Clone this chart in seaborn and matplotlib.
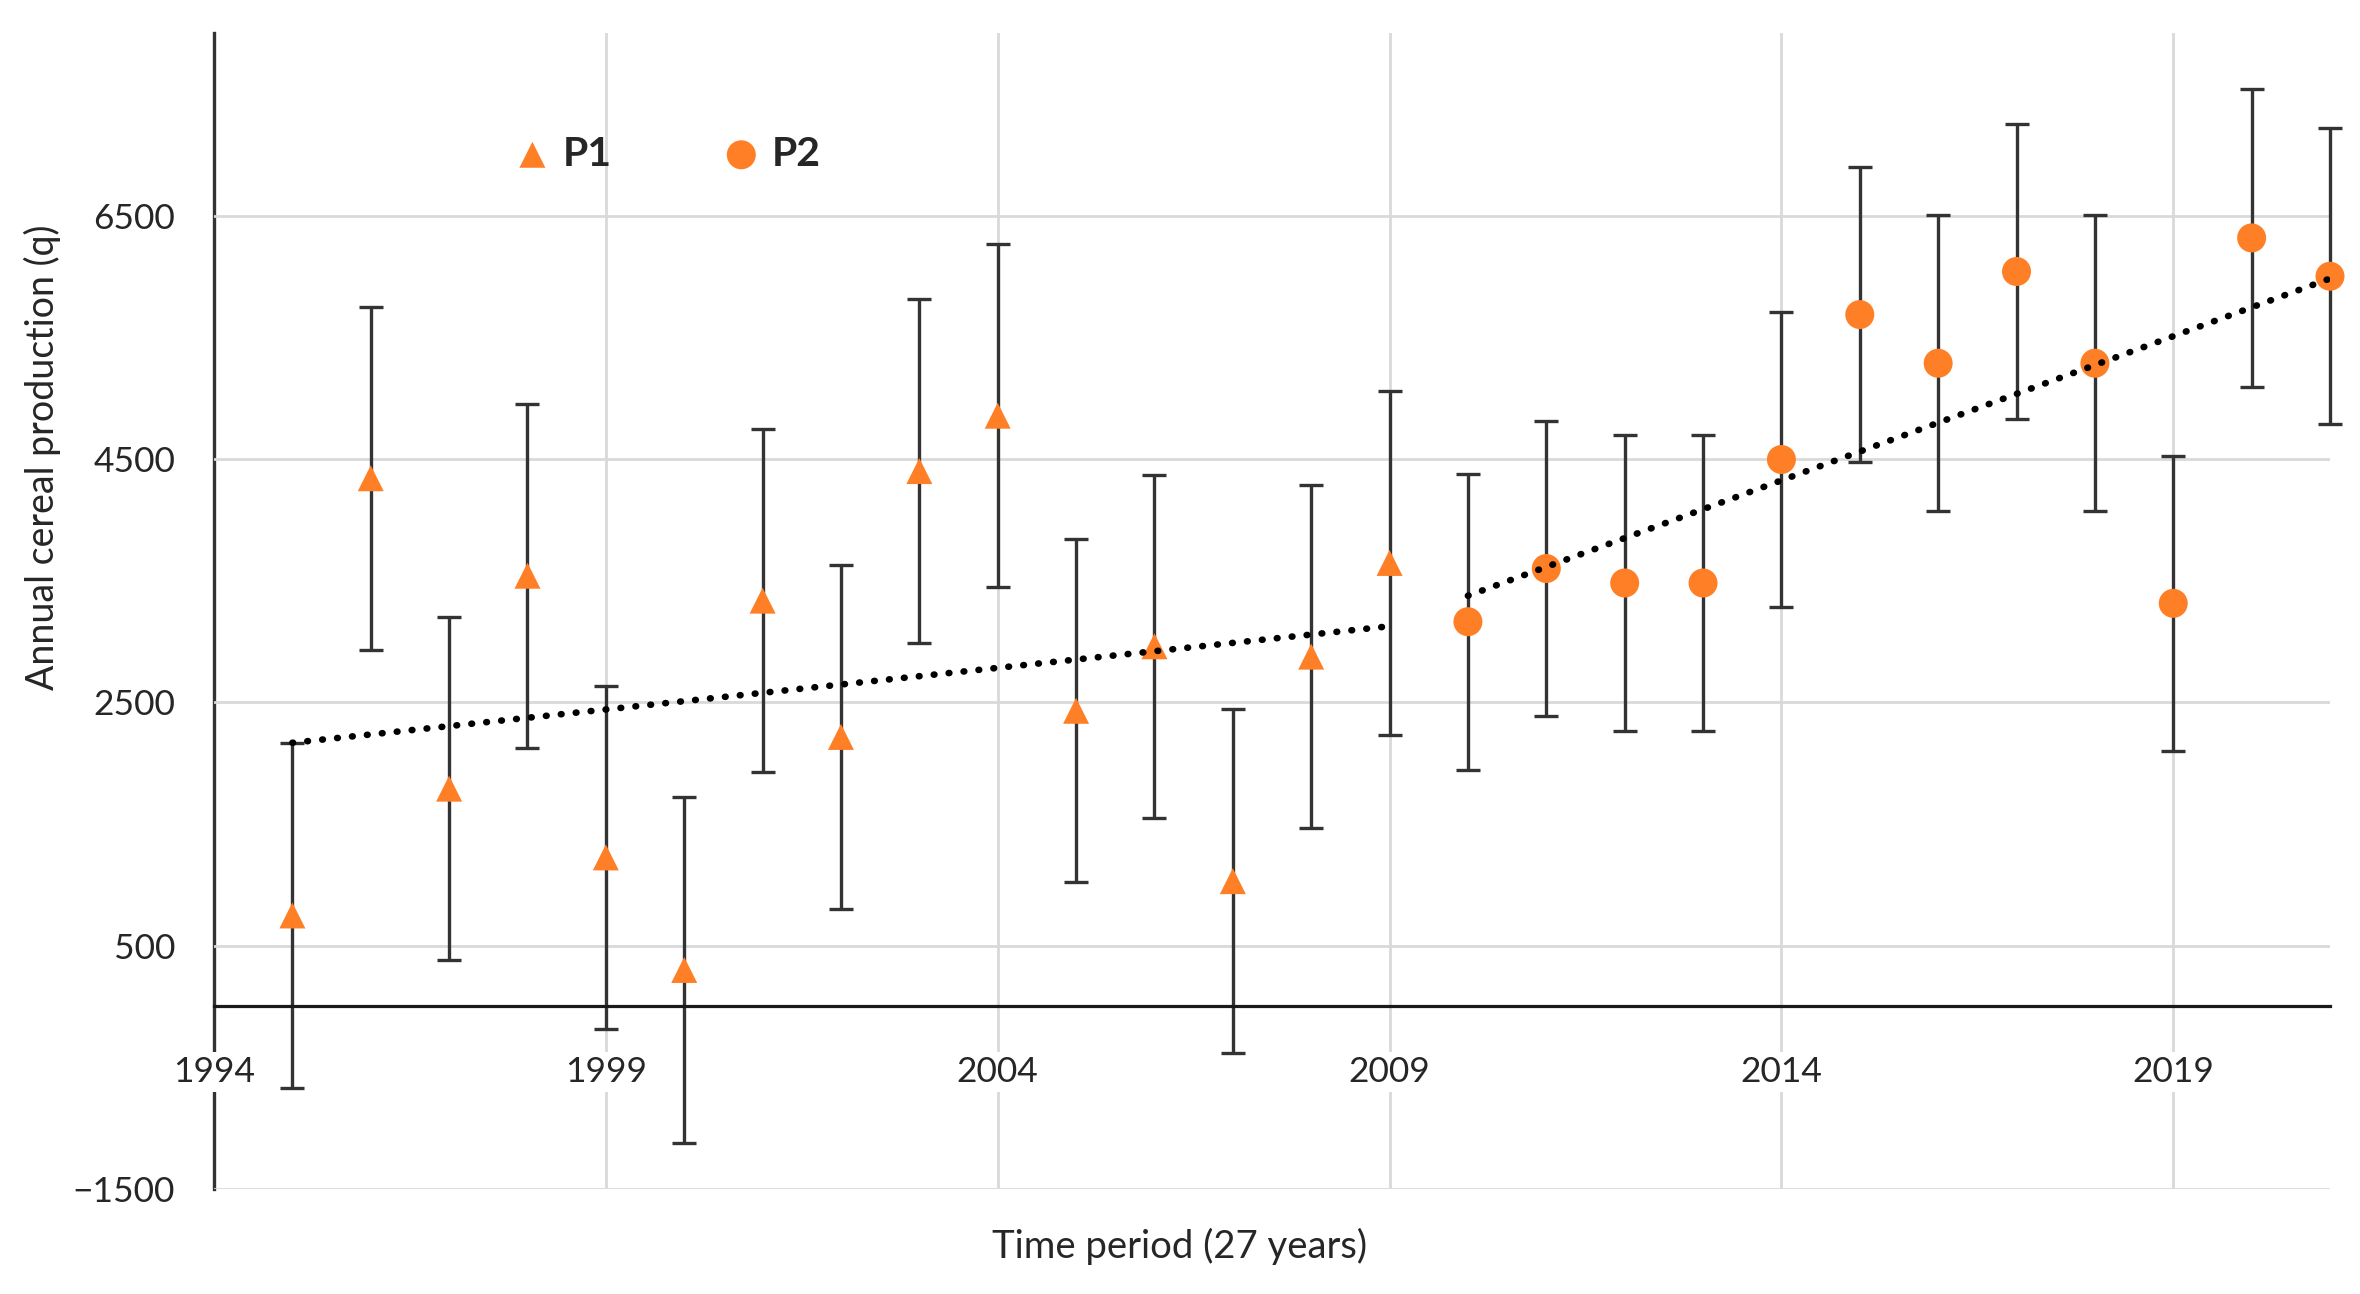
import matplotlib
matplotlib.use('Agg')
import matplotlib.pyplot as plt
import numpy as np
import pandas as pd
import seaborn as sns

# values
p1_years = [1995, 1996, 1997, 1998, 1999, 2000, 2001, 2002, 2003, 2004, 2005, 2006, 2007, 2008, 2009]
p1_prod = [748, 4341, 1790, 3540, 1225, 300, 3335, 2215, 4400, 4855, 2430, 2960, 1030, 2875, 3645]
p1_err = [1420, 1409, 1412, 1413, 1410, 1418, 1407, 1412, 1414, 1411, 1409, 1411, 1416, 1410, 1417]

p2_years = [2010, 2011, 2012, 2013, 2014, 2015, 2016, 2017, 2018, 2019, 2020, 2021]
p2_prod = [3162, 3599, 3480, 3480, 4495, 5686, 5286, 6040, 5286, 3313, 6316, 6001]
p2_err = [1215, 1214, 1214, 1214, 1215, 1213, 1215, 1216, 1215, 1212, 1223, 1215]

x_first = [1994]                          # tick on the y axis line, no gridline
x_grid = [1999, 2004, 2009, 2014, 2019]   # ticks with vertical gridlines
y_ticks = [-1500, 500, 2500, 4500, 6500]

orange = '#ff7f27'
dark = '#262626'

p1 = pd.DataFrame({'year': p1_years, 'production': p1_prod, 'err': p1_err})
p2 = pd.DataFrame({'year': p2_years, 'production': p2_prod, 'err': p2_err})

sns.set_style('white')
plt.rcParams['font.family'] = ['Lato', 'DejaVu Sans']

fig = plt.figure(figsize=(23.6, 12.94), dpi=100)
ax = fig.add_axes([0.09068, 0.08114, 0.89661, 0.89336])

# error bars first, markers on top, trendlines over everything
for d in (p1, p2):
    eb = ax.errorbar(d['year'], d['production'], yerr=d['err'], fmt='none',
                     ecolor='#333333', elinewidth=2.4, capsize=8.3, capthick=2.4, zorder=2)
    for a in list(eb.lines[1]) + list(eb.lines[2]):
        a.set_clip_on(False)

sns.scatterplot(data=p1, x='year', y='production', marker='^', s=350, color=orange,
                edgecolor='none', label='P1', ax=ax, zorder=3, clip_on=False)
sns.scatterplot(data=p2, x='year', y='production', marker='o', s=436, color=orange,
                edgecolor='none', label='P2', ax=ax, zorder=3, clip_on=False)

for d in (p1, p2):
    sns.regplot(data=d, x='year', y='production', scatter=False, ci=None, truncate=True, ax=ax,
                line_kws=dict(color='black', lw=4.8, linestyle=(0, (0.1, 2.15)),
                              dash_capstyle='round', zorder=4))

ax.set_xlim(1994, 2021)
ax.set_ylim(-1500, 8000)
ax.set_xticks(x_grid)
ax.set_xticks(x_first, labels=[str(v) for v in x_first], minor=True)
ax.set_yticks(y_ticks)
ax.set_yticklabels([f'{v:d}'.replace('-', '\u2212') for v in y_ticks])

ax.set_axisbelow(True)
ax.grid(True, axis='both', which='major', color='#d9d9d9', lw=2.0)
ax.grid(False, axis='x', which='minor')

ax.spines['top'].set_visible(False)
ax.spines['right'].set_visible(False)
ax.spines['left'].set_color('#333333')
ax.spines['left'].set_linewidth(2.4)
ax.spines['left'].set_zorder(0.4)
ax.spines['bottom'].set_position(('data', 0))
ax.spines['bottom'].set_color('#1a1a1a')
ax.spines['bottom'].set_linewidth(2.3)

ax.tick_params(axis='y', direction='in', length=9.5, width=2, color='#333333',
               pad=28, labelsize=25.5, labelcolor=dark)
ax.tick_params(axis='x', which='both', direction='out', length=9.5, width=2, color='#333333',
               pad=26, labelsize=25.5, labelcolor=dark)

ax.set_xlabel('Time period (27 years)', fontsize=27.5, color=dark)
ax.set_ylabel('Annual cereal production (q)', fontsize=27, color=dark)
ax.xaxis.label.set_va('center')
ax.yaxis.label.set_va('center')
ax.xaxis.set_label_coords(0.4565, -0.0493)
ax.yaxis.set_label_coords(-0.0813, 0.633)

ax.legend(loc='center', bbox_to_anchor=(0.2148, 0.8953), ncol=2, frameon=False,
          prop={'weight': 'bold', 'size': 29.5}, handlelength=0.8, handletextpad=0.35,
          columnspacing=2.75, borderpad=0, borderaxespad=0)

# white box behind the year labels, cutting the lines behind them as in the original
for lab in ax.get_xticklabels() + ax.get_xticklabels(minor=True):
    lab.set_bbox(dict(facecolor='white', edgecolor='none', pad=3))

fig.savefig('out.png', dpi=100)
